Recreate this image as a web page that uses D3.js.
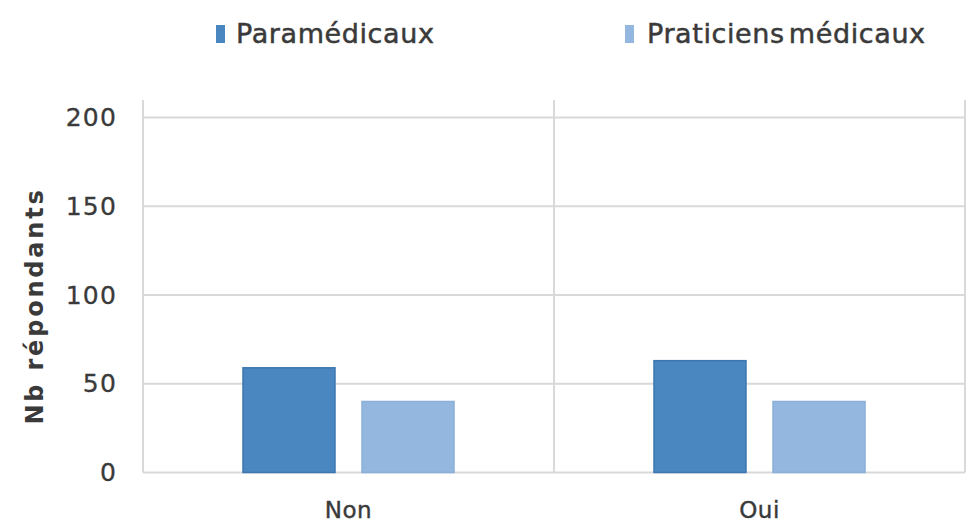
<!DOCTYPE html>
<html>
<head>
<meta charset="utf-8">
<script src="https://cdn.jsdelivr.net/npm/d3@7"></script>
<style>
  html, body { margin: 0; padding: 0; background: #fff; }
  svg { display: block; font-family: "DejaVu Sans", sans-serif; }
</style>
</head>
<body>
<svg id="chart" width="974" height="526"></svg>
<script>
// Survey answers: number of respondents per answer and profession
const categories = ["Non", "Oui"];
const seriesNames = ["Paramédicaux", "Praticiens médicaux"];
const paramedicaux = [59, 63];
const praticiens = [40, 40];
const yTicks = [0, 50, 100, 150, 200];
const yTitle = "Nb répondants";

const colors = ["#4a86c0", "#93b7df"];
const strokes = ["#3e77af", "#8aafd8"];
const textColor = "#3a3a3a";

const svg = d3.select("#chart");
const margin = { left: 143, right: 9, top: 117.5, bottom: 53.5 };
const W = 974, H = 526;

const x0 = d3.scaleBand().domain(categories).range([margin.left, W - margin.right]).padding(0);
const x1 = d3.scaleBand().domain(seriesNames).range([0, x0.bandwidth()])
  .paddingInner(0.227).paddingOuter(0.84);
const y = d3.scaleLinear().domain([0, 200]).range([H - margin.bottom, margin.top]);

const grid = "#d9d9d9";

// horizontal gridlines
svg.append("g").selectAll("line").data(yTicks).join("line")
  .attr("x1", margin.left).attr("x2", W - margin.right)
  .attr("y1", d => y(d)).attr("y2", d => y(d))
  .attr("stroke", grid).attr("stroke-width", 2);

// vertical category separators
const seps = [x0.range()[0], ...categories.map(c => x0(c) + x0.bandwidth())];
svg.append("g").selectAll("line").data(seps).join("line")
  .attr("x1", d => d).attr("x2", d => d)
  .attr("y1", 100).attr("y2", y(0))
  .attr("stroke", grid).attr("stroke-width", 2);

// y axis tick labels
const yAxis = d3.axisLeft(y).tickValues(yTicks).tickSize(0).tickPadding(26);
const gy = svg.append("g").attr("transform", `translate(${margin.left},0)`).call(yAxis);
gy.select(".domain").remove();
gy.selectAll("text").attr("font-size", 25).attr("fill", textColor)
  .attr("font-family", "DejaVu Sans, sans-serif")
  .attr("letter-spacing", 1.2)
  .attr("stroke", textColor).attr("stroke-width", 0.3);

// x axis labels
const xAxis = d3.axisBottom(x0).tickSize(0).tickPadding(0);
const gx = svg.append("g").attr("transform", `translate(0,${y(0)})`).call(xAxis);
gx.select(".domain").remove();
gx.selectAll("text").attr("font-size", 23).attr("fill", textColor)
  .attr("font-family", "DejaVu Sans, sans-serif")
  .attr("letter-spacing", 0.5)
  .attr("stroke", textColor).attr("stroke-width", 0.4)
  .attr("y", 45).attr("dy", 0);

// bars
const values = [paramedicaux, praticiens];
const rows = [];
categories.forEach((c, i) => seriesNames.forEach((s, j) => rows.push({ c, s, j, v: values[j][i] })));
svg.append("g").selectAll("rect").data(rows).join("rect")
  .attr("x", d => x0(d.c) + x1(d.s))
  .attr("width", x1.bandwidth())
  .attr("y", d => y(d.v))
  .attr("height", d => y(0) - y(d.v))
  .attr("fill", d => colors[d.j])
  .attr("stroke", d => strokes[d.j]).attr("stroke-width", 1.5);

// y axis title
svg.append("text")
  .attr("transform", `translate(43,306) rotate(-90)`)
  .attr("text-anchor", "middle")
  .attr("font-size", 24).attr("font-weight", "bold").attr("fill", textColor)
  .attr("letter-spacing", 2.8)
  .text(yTitle);

// legend
const legendX = [216, 625];
const lg = svg.append("g").selectAll("g").data(seriesNames).join("g")
  .attr("transform", (d, i) => `translate(${legendX[i]},0)`);
lg.append("rect").attr("x", 0).attr("y", 25).attr("width", 9).attr("height", 18)
  .attr("fill", (d, i) => colors[i]);
lg.append("text").attr("x", (d, i) => i === 0 ? 20 : 22).attr("y", 43)
  .attr("font-size", 27).attr("fill", textColor)
  .attr("stroke", textColor).attr("stroke-width", 0.5)
  .attr("letter-spacing", 0.6).attr("word-spacing", -5)
  .text(d => d);
</script>
</body>
</html>
